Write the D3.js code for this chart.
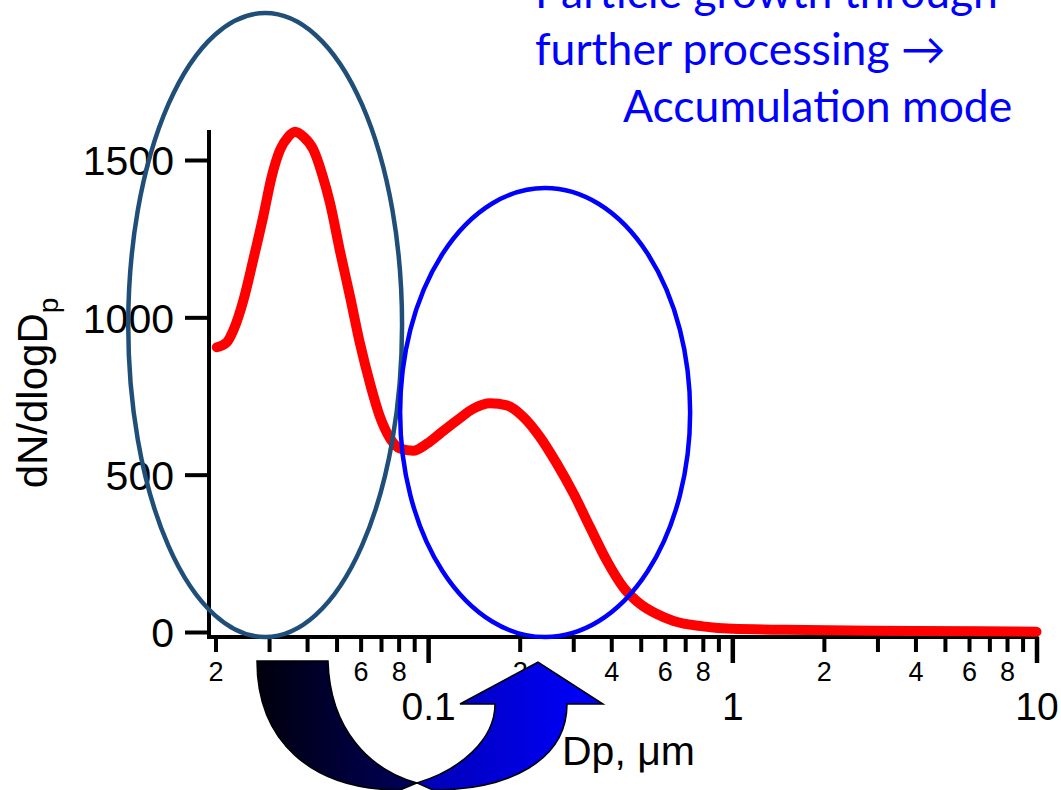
<!DOCTYPE html>
<html>
<head>
<meta charset="utf-8">
<script src="https://cdn.jsdelivr.net/npm/d3@7"></script>
<style>
  body { margin: 0; background: #ffffff; }
  svg { display: block; }
  .axis text { font-family: "Liberation Sans", Arial, sans-serif; fill: #000; }
  .axis line, .axis path { stroke: #000; }
</style>
</head>
<body>
<div id="chart"></div>
<script>
// particle diameter (um) and size distribution
var diameters = [0.0202, 0.0218, 0.0229, 0.0247, 0.0266, 0.0287, 0.0306, 0.0326, 0.0347, 0.0365,
    0.0389, 0.0420, 0.0447, 0.0476, 0.0513, 0.0554, 0.0597, 0.0644, 0.0695, 0.0750,
    0.0809, 0.0893, 0.0993, 0.1095, 0.1243, 0.1409, 0.1599, 0.1815, 0.2058, 0.2334,
    0.2649, 0.3006, 0.341, 0.387, 0.439, 0.498, 0.565, 0.641, 0.8, 1.0,
    1.5, 2.44, 4, 6.5, 10];
var dNdlogDp = [905, 921, 959, 1054, 1182, 1320, 1447, 1532, 1574, 1590,
    1574, 1532, 1459, 1363, 1211, 1065, 917, 790, 683, 615,
    583, 576, 599, 631, 672, 710, 727, 720, 683, 619,
    535, 440, 332, 226, 141, 89, 57, 35, 18, 10,
    7, 5, 3, 2, 1];

var yTicks = [0, 500, 1000, 1500];
var majorTicks = [0.1, 1, 10];
var majorLabels = ["0.1", "1", "10"];
var minorTicks = [0.02, 0.03, 0.04, 0.05, 0.06, 0.07, 0.08, 0.09,
    0.2, 0.3, 0.4, 0.5, 0.6, 0.7, 0.8, 0.9,
    2, 3, 4, 5, 6, 7, 8, 9];
var minorLabelled = [2, 4, 6, 8];

// ellipses circling the two modes: [dp left, dp right, value bottom, value top]
var nucleationMode = [0.01033, 0.0821, -16, 1967];
var accumulationMode = [0.0809, 0.7267, -16, 1411];

var noteLines = ["Particle growth through", "further processing \u2192", "Accumulation mode"];

var width = 1061, height = 790;

var svg = d3.select("#chart")
    .append("svg")
    .attr("width", width)
    .attr("height", height);

var x = d3.scaleLog()
    .domain([0.02, 10])
    .range([215.5, 1036.5]);

var y = d3.scaleLinear()
    .domain([0, 1500])
    .range([632, 160]);

var axisX = 209, axisY = 637;

// y axis
var yAxis = d3.axisLeft(y)
    .tickValues(yTicks)
    .tickSize(24)
    .tickPadding(11)
    .tickFormat(d3.format("d"));
var gy = svg.append("g")
    .attr("class", "axis")
    .attr("transform", "translate(" + axisX + ",0)")
    .call(yAxis);
gy.select(".domain").remove();
gy.selectAll("line").attr("stroke-width", 4);
gy.selectAll("text").attr("font-size", 41).attr("dy", "0.36em");
svg.append("line")
    .attr("x1", axisX).attr("x2", axisX)
    .attr("y1", 130).attr("y2", axisY + 2)
    .attr("stroke", "#000").attr("stroke-width", 4);

// x axis, minor ticks
var gxMinor = svg.append("g")
    .attr("class", "axis")
    .attr("transform", "translate(0," + axisY + ")")
    .call(d3.axisBottom(x)
        .tickValues(minorTicks)
        .tickSize(15)
        .tickPadding(10)
        .tickFormat(function (d) {
            var lead = Math.round(d / Math.pow(10, Math.floor(Math.log10(d) + 1e-9)));
            return minorLabelled.indexOf(lead) >= 0 ? String(lead) : "";
        }));
gxMinor.select(".domain").remove();
gxMinor.selectAll("line").attr("stroke-width", 4);
gxMinor.selectAll("text").attr("font-size", 27);

// x axis, decades
var gxMajor = svg.append("g")
    .attr("class", "axis")
    .attr("transform", "translate(0," + axisY + ")")
    .call(d3.axisBottom(x)
        .tickValues(majorTicks)
        .tickSize(26)
        .tickPadding(29)
        .tickFormat(function (d, i) { return majorLabels[i]; }));
gxMajor.select(".domain").remove();
gxMajor.selectAll("line").attr("stroke-width", 4.5);
gxMajor.selectAll("text").attr("font-size", 39);
svg.append("line")
    .attr("x1", axisX - 2).attr("x2", x(10) + 2)
    .attr("y1", axisY).attr("y2", axisY)
    .attr("stroke", "#000").attr("stroke-width", 4);

// axis titles
var yTitle = svg.append("text")
    .attr("transform", "translate(47,393) rotate(-90)")
    .attr("text-anchor", "middle")
    .attr("font-family", "Liberation Sans, Arial, sans-serif")
    .attr("font-size", 42);
yTitle.append("tspan").text("dN/dlogD");
yTitle.append("tspan").attr("font-size", 28).attr("dy", 11).text("p");

svg.append("text")
    .attr("x", 562)
    .attr("y", 765)
    .attr("font-family", "Liberation Sans, Arial, sans-serif")
    .attr("font-size", 41)
    .text("Dp, \u03bcm");

// size distribution
var line = d3.line()
    .x(function (d) { return x(d[0]); })
    .y(function (d) { return y(d[1]); })
    .curve(d3.curveMonotoneX);

svg.append("path")
    .datum(d3.zip(diameters, dNdlogDp))
    .attr("fill", "none")
    .attr("stroke", "#ff0000")
    .attr("stroke-width", 10)
    .attr("stroke-linecap", "round")
    .attr("stroke-linejoin", "round")
    .attr("d", line);

// mode ellipses
function drawEllipse(box, color) {
    var x0 = x(box[0]), x1 = x(box[1]), y0 = y(box[2]), y1 = y(box[3]);
    svg.append("ellipse")
        .attr("cx", (x0 + x1) / 2)
        .attr("cy", (y0 + y1) / 2)
        .attr("rx", (x1 - x0) / 2)
        .attr("ry", (y0 - y1) / 2)
        .attr("fill", "none")
        .attr("stroke", color)
        .attr("stroke-width", 4.5);
}
drawEllipse(nucleationMode, "#1f4e79");
drawEllipse(accumulationMode, "#0000ff");

// growth note
var note = svg.append("text")
    .attr("font-family", "Lato, 'Open Sans', sans-serif")
    .attr("font-size", 44.5)
    .attr("fill", "#0000ff");
note.append("tspan").attr("x", 535).attr("y", 8).text(noteLines[0]);
note.append("tspan").attr("x", 535).attr("y", 65).text(noteLines[1]);
note.append("tspan").attr("x", 623).attr("y", 122).text(noteLines[2]);

// U-turn arrow from the first mode to the second
var defs = svg.append("defs");
var gradLeft = defs.append("linearGradient").attr("id", "gradLeft")
    .attr("gradientUnits", "userSpaceOnUse")
    .attr("x1", 257).attr("x2", 417).attr("y1", 0).attr("y2", 0);
gradLeft.append("stop").attr("offset", 0).attr("stop-color", "#00000c");
gradLeft.append("stop").attr("offset", 1).attr("stop-color", "#00005c");
var gradRight = defs.append("linearGradient").attr("id", "gradRight")
    .attr("gradientUnits", "userSpaceOnUse")
    .attr("x1", 417).attr("x2", 603).attr("y1", 0).attr("y2", 0);
gradRight.append("stop").attr("offset", 0).attr("stop-color", "#0000b4");
gradRight.append("stop").attr("offset", 1).attr("stop-color", "#0000ff");

var arrow = svg.append("g");
arrow.append("path")
    .attr("d", "M257,661 L328,661 C330,730 370,770 417,783 L400,790 C310,790 257,740 257,661 Z")
    .attr("fill", "url(#gradLeft)")
    .attr("stroke", "#000")
    .attr("stroke-width", 1.5);
arrow.append("path")
    .attr("d", "M417,783 C460,770 495,740 495,704 L460,704 L538,662 L603,704 L567,704 C567,760 510,790 433,790 Z")
    .attr("fill", "url(#gradRight)")
    .attr("stroke", "#000")
    .attr("stroke-width", 1.5);
</script>
</body>
</html>
